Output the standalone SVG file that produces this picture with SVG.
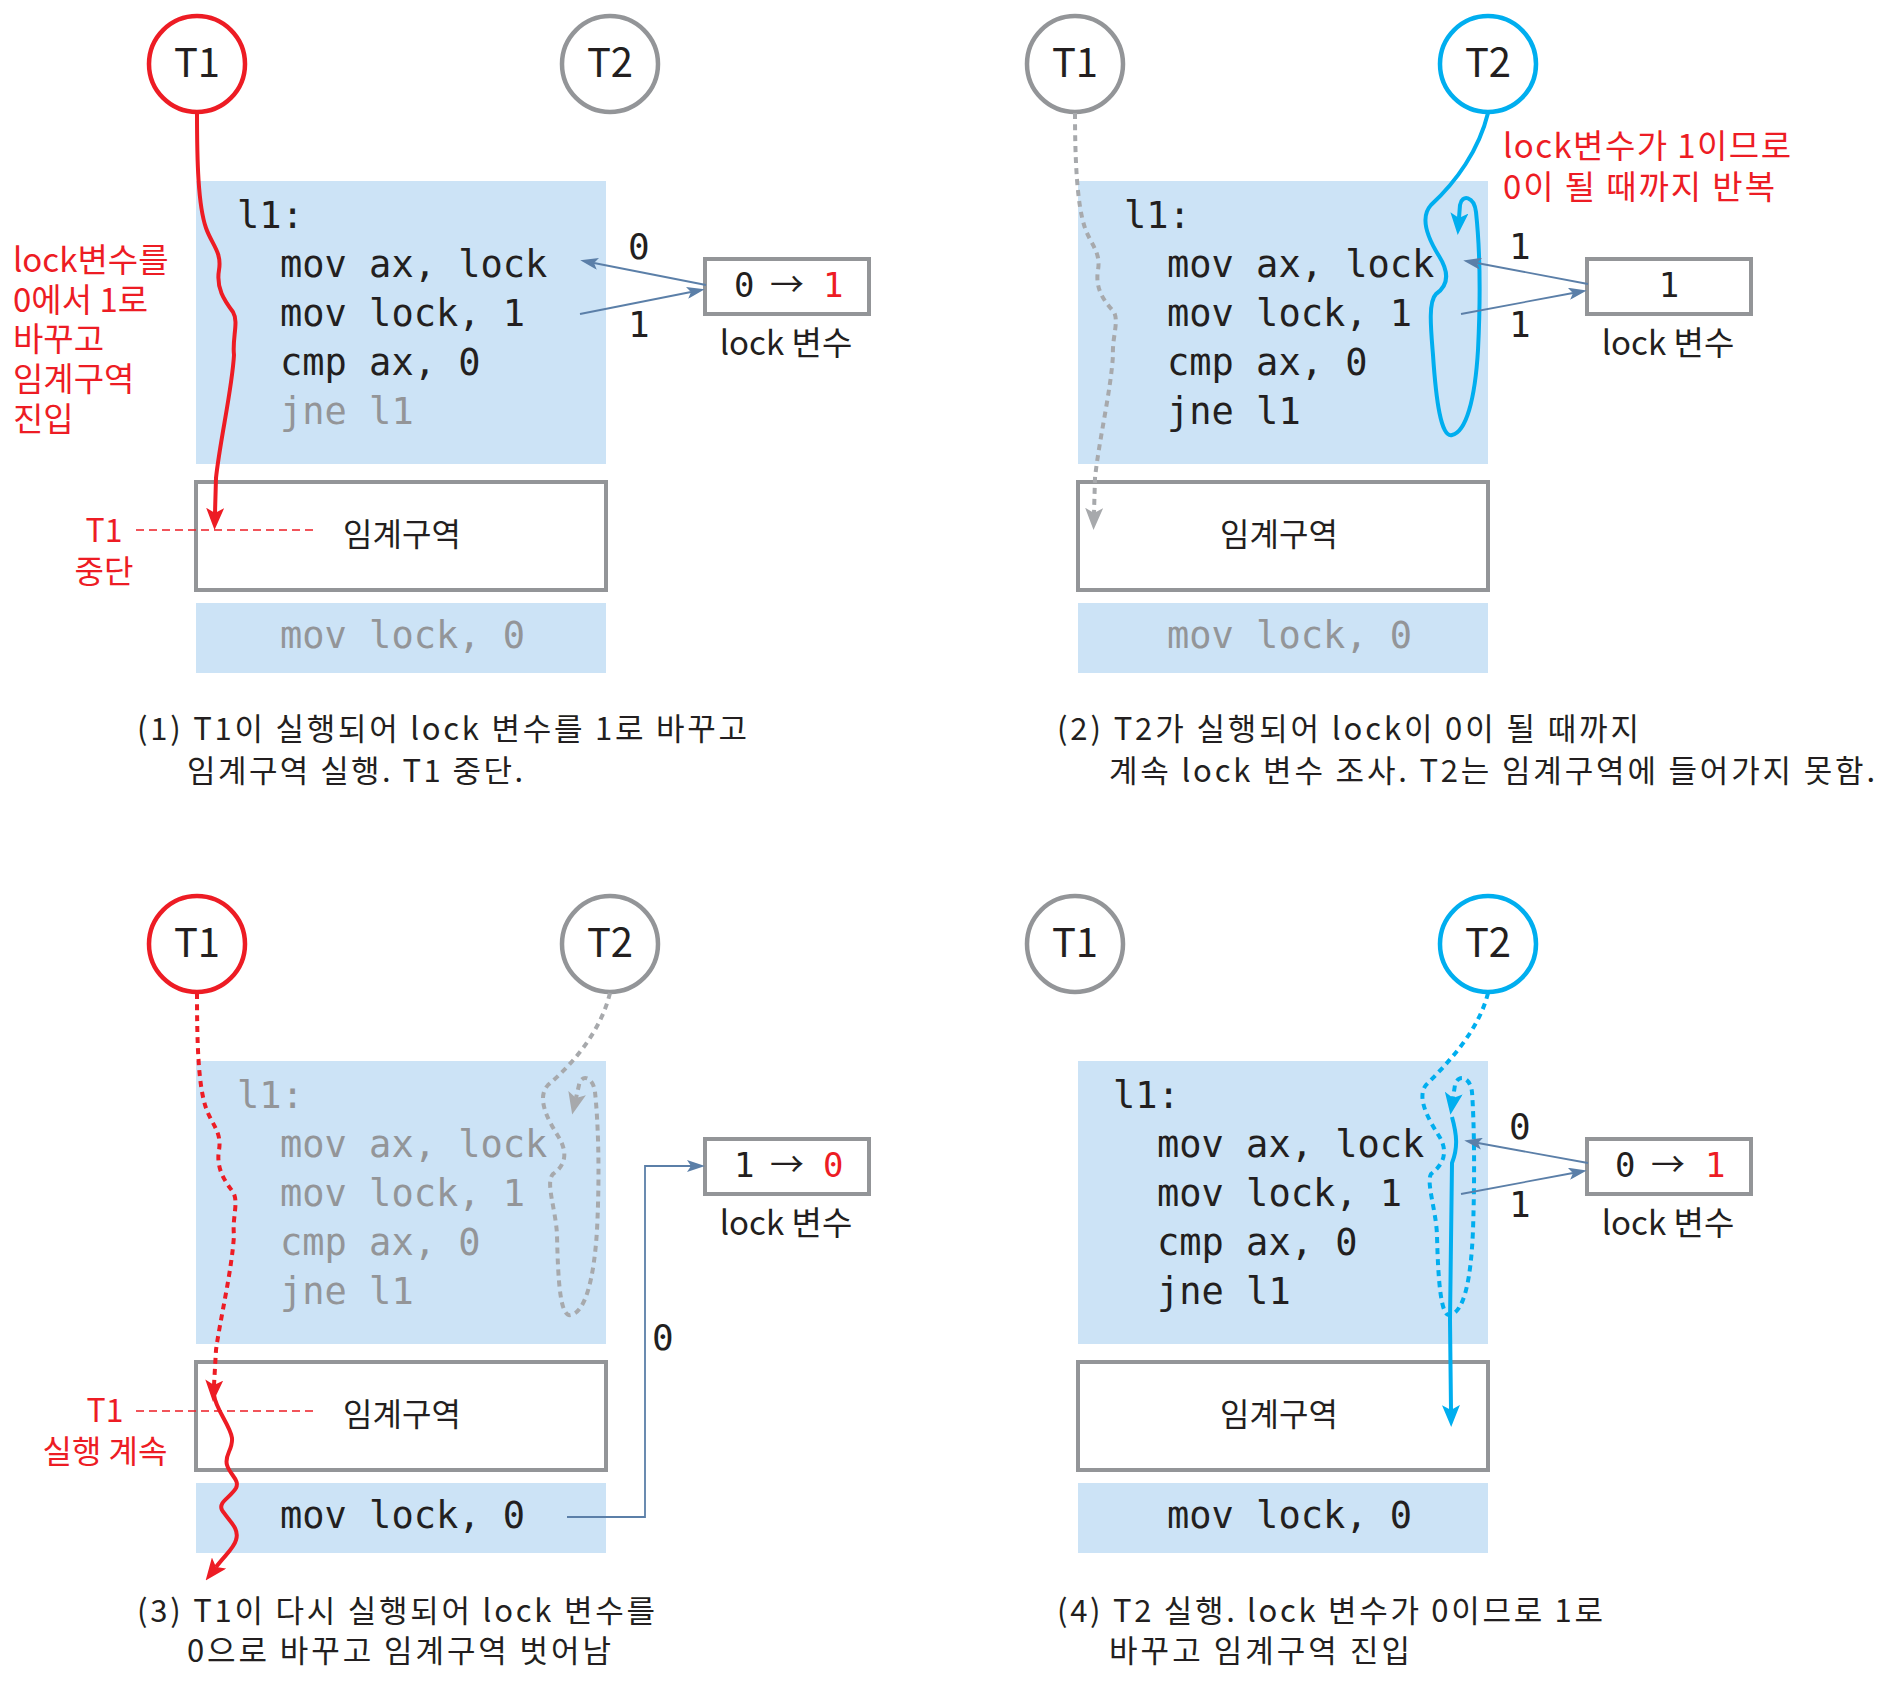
<svg xmlns="http://www.w3.org/2000/svg" width="1880" height="1682" viewBox="0 0 1880 1682">
<style>
.bg{fill:#ffffff}
.blk{fill:#cce3f6}
.cs{fill:#ffffff;stroke:#939598;stroke-width:4}
.var{fill:#ffffff;stroke:#939598;stroke-width:4}
.circ{fill:#ffffff;stroke-width:4.5}
.cr{stroke:#ed1c24}.cg{stroke:#939598}.cb{stroke:#00aeef}
.code{font-family:"DejaVu Sans Mono","Liberation Mono",monospace;font-size:37px}
.k{fill:#231f20}.g{fill:#939598}.r{fill:#ed1c24}
.sans{font-family:"Noto Sans CJK KR","Noto Sans",sans-serif}
.lbl{font-size:40px;fill:#231f20;text-anchor:middle}
.kr{font-size:32px}
.cap{font-family:"Noto Sans CJK KR","Noto Sans",sans-serif;font-size:31px;fill:#231f20}
.num{font-family:"DejaVu Sans Mono","Liberation Mono",monospace;font-size:36px;fill:#231f20}
.vnum{font-family:"DejaVu Sans Mono","Liberation Mono",monospace;font-size:34px}
.arr{font-family:"Noto Sans CJK KR","DejaVu Sans",sans-serif;font-size:34px;fill:#231f20}
.steel{fill:none;stroke:#5b7fa8;stroke-width:1.8}
.pr{fill:none;stroke:#ed1c24;stroke-width:4}
.prd{fill:none;stroke:#ed1c24;stroke-width:4;stroke-dasharray:6 5}
.pgd{fill:none;stroke:#a7a9ac;stroke-width:4;stroke-dasharray:6 5}
.pb{fill:none;stroke:#00aeef;stroke-width:4}
.pbd{fill:none;stroke:#00aeef;stroke-width:4;stroke-dasharray:6 5}
.lead{fill:none;stroke:#ed1c24;stroke-width:1.5;stroke-dasharray:8 5}
</style>
<defs>
<marker id="aR" markerUnits="userSpaceOnUse" viewBox="0 0 22 18" markerWidth="22" markerHeight="18" refX="5" refY="9" orient="auto"><path d="M0,0 L22,9 L0,18 L5,9 z" fill="#ed1c24"/></marker>
<marker id="aG" markerUnits="userSpaceOnUse" viewBox="0 0 22 18" markerWidth="22" markerHeight="18" refX="5" refY="9" orient="auto"><path d="M0,0 L22,9 L0,18 L5,9 z" fill="#a7a9ac"/></marker>
<marker id="aB" markerUnits="userSpaceOnUse" viewBox="0 0 22 18" markerWidth="22" markerHeight="18" refX="5" refY="9" orient="auto"><path d="M0,0 L22,9 L0,18 L5,9 z" fill="#00aeef"/></marker>
<marker id="aS" markerUnits="userSpaceOnUse" viewBox="0 0 18 12" markerWidth="18" markerHeight="12" refX="4" refY="6" orient="auto"><path d="M0,0 L18,6 L0,12 L4,6 z" fill="#5b7fa8"/></marker>
</defs>
<rect class="bg" x="0" y="0" width="1880" height="1682"/>

<!-- ===== Panel 1 ===== -->
<g id="panel1">
  <g id="p1-code">
    <rect class="blk" x="196" y="181" width="410" height="283"/>
    <text class="code k" x="237" y="228">l1:</text>
    <text class="code k" x="280" y="277">mov ax, lock</text>
    <text class="code k" x="280" y="326">mov lock, 1</text>
    <text class="code k" x="280" y="375">cmp ax, 0</text>
    <text class="code g" x="280" y="424">jne l1</text>
  </g>
  <g id="p1-cs">
    <rect class="cs" x="196" y="482" width="410" height="108"/>
    <text class="sans kr k" x="402" y="546" text-anchor="middle">임계구역</text>
  </g>
  <g id="p1-unlock">
    <rect class="blk" x="196" y="603" width="410" height="70"/>
    <text class="code g" x="280" y="648">mov lock, 0</text>
  </g>
  <g id="p1-var">
    <rect class="var" x="705" y="259" width="164" height="55"/>
    <text y="297"><tspan class="vnum k" x="734">0</tspan><tspan class="arr" x="770">→</tspan><tspan class="vnum r" x="823">1</tspan></text>
    <text class="sans k" font-size="33" x="786" y="355" text-anchor="middle">lock 변수</text>
  </g>
  <g id="p1-t1"><circle class="circ cr" cx="197" cy="64" r="48"/><text class="sans lbl" x="197" y="77">T1</text></g>
  <g id="p1-t2"><circle class="circ cg" cx="610" cy="64" r="48"/><text class="sans lbl" x="610" y="77">T2</text></g>
  <g id="p1-notes">
    <text class="sans r" font-size="33" y="272"><tspan x="13">lock변수를</tspan><tspan x="13" dy="40">0에서 1로</tspan><tspan x="13" dy="39">바꾸고</tspan><tspan x="13" dy="40">임계구역</tspan><tspan x="13" dy="40">진입</tspan></text>
    <text class="sans kr r" y="542" text-anchor="middle"><tspan x="104">T1</tspan><tspan x="104" dy="41">중단</tspan></text>
    <text class="num" x="628" y="259">0</text>
    <text class="num" x="628" y="337">1</text>
  </g>
  <g id="p1-connectors">
    <path class="pr" marker-end="url(#aR)" d="M197 113 C197 160,198 205,206 228 C212 245,222 252,219 270 C216 288,224 300,233 312 C239 322,232 338,234 355 C232 390,220 440,216 478 L215 513"/>
    <line class="lead" x1="136" y1="530" x2="316" y2="530"/>
    <line class="steel" marker-end="url(#aS)" x1="706" y1="285" x2="594" y2="263"/>
    <line class="steel" marker-end="url(#aS)" x1="580" y1="314" x2="691" y2="292"/>
  </g>
  <text class="cap" y="740"><tspan x="137" textLength="610">(1) T1이 실행되어 lock 변수를 1로 바꾸고</tspan><tspan x="187" dy="42" textLength="336">임계구역 실행. T1 중단.</tspan></text>
</g>

<!-- ===== Panel 2 ===== -->
<g id="panel2" transform="translate(881,0)">
  <g id="p2-code">
    <rect class="blk" x="197" y="181" width="410" height="283"/>
    <text class="code k" x="243" y="228">l1:</text>
    <text class="code k" x="286" y="277">mov ax, lock</text>
    <text class="code k" x="286" y="326">mov lock, 1</text>
    <text class="code k" x="286" y="375">cmp ax, 0</text>
    <text class="code k" x="286" y="424">jne l1</text>
  </g>
  <g id="p2-cs">
    <rect class="cs" x="197" y="482" width="410" height="108"/>
    <text class="sans kr k" x="398" y="546" text-anchor="middle">임계구역</text>
  </g>
  <g id="p2-unlock">
    <rect class="blk" x="197" y="603" width="410" height="70"/>
    <text class="code g" x="286" y="648">mov lock, 0</text>
  </g>
  <g id="p2-var">
    <rect class="var" x="706" y="259" width="164" height="55"/>
    <text class="vnum k" x="788" y="297" text-anchor="middle">1</text>
    <text class="sans k" font-size="33" x="787" y="355" text-anchor="middle">lock 변수</text>
  </g>
  <g id="p2-t1"><circle class="circ cg" cx="194" cy="64" r="48"/><text class="sans lbl" x="194" y="77">T1</text></g>
  <g id="p2-t2"><circle class="circ cb" cx="607" cy="64" r="48"/><text class="sans lbl" x="607" y="77">T2</text></g>
  <g id="p2-notes">
    <text class="sans r" font-size="33" y="158"><tspan x="622" textLength="288">lock변수가 1이므로</tspan><tspan x="622" dy="41" textLength="272">0이 될 때까지 반복</tspan></text>
    <text class="num" x="628" y="259">1</text>
    <text class="num" x="628" y="337">1</text>
  </g>
  <g id="p2-connectors">
    <path class="pgd" marker-end="url(#aG)" d="M194 113 C194 160,196 205,204 228 C210 245,220 252,217 270 C214 288,222 300,233 312 C238 322,231 338,232 355 C230 390,218 440,214 478 L213 513"/>
    <path class="pb" marker-end="url(#aB)" d="M607 113 C598 150,575 182,550 205 C538 218,548 240,558 256 C568 272,568 285,555 294 C547 302,550 330,552 355 C555 400,560 438,571 435 C585 432,594 400,597 350 C600 290,598 240,595 212 C593 196,581 194,579 205 L578 218"/>
    <line class="steel" marker-end="url(#aS)" x1="707" y1="284" x2="596" y2="263"/>
    <line class="steel" marker-end="url(#aS)" x1="580" y1="314" x2="692" y2="293"/>
  </g>
  <text class="cap" y="740"><tspan x="176" textLength="582">(2) T2가 실행되어 lock이 0이 될 때까지</tspan><tspan x="228" dy="42" textLength="766">계속 lock 변수 조사. T2는 임계구역에 들어가지 못함.</tspan></text>
</g>

<!-- ===== Panel 3 ===== -->
<g id="panel3" transform="translate(0,880)">
  <g id="p3-code">
    <rect class="blk" x="196" y="181" width="410" height="283"/>
    <text class="code g" x="237" y="228">l1:</text>
    <text class="code g" x="280" y="277">mov ax, lock</text>
    <text class="code g" x="280" y="326">mov lock, 1</text>
    <text class="code g" x="280" y="375">cmp ax, 0</text>
    <text class="code g" x="280" y="424">jne l1</text>
  </g>
  <g id="p3-cs">
    <rect class="cs" x="196" y="482" width="410" height="108"/>
    <text class="sans kr k" x="402" y="546" text-anchor="middle">임계구역</text>
  </g>
  <g id="p3-unlock">
    <rect class="blk" x="196" y="603" width="410" height="70"/>
    <text class="code k" x="280" y="648">mov lock, 0</text>
  </g>
  <g id="p3-var">
    <rect class="var" x="705" y="259" width="164" height="55"/>
    <text y="297"><tspan class="vnum k" x="734">1</tspan><tspan class="arr" x="770">→</tspan><tspan class="vnum r" x="823">0</tspan></text>
    <text class="sans k" font-size="33" x="786" y="355" text-anchor="middle">lock 변수</text>
  </g>
  <g id="p3-t1"><circle class="circ cr" cx="197" cy="64" r="48"/><text class="sans lbl" x="197" y="77">T1</text></g>
  <g id="p3-t2"><circle class="circ cg" cx="610" cy="64" r="48"/><text class="sans lbl" x="610" y="77">T2</text></g>
  <g id="p3-notes">
    <text class="sans kr r" y="542" text-anchor="middle"><tspan x="105">T1</tspan><tspan x="105" dy="41">실행 계속</tspan></text>
    <text class="num" x="652" y="470">0</text>
  </g>
  <g id="p3-connectors">
    <path class="prd" marker-end="url(#aR)" d="M197 113 C197 160,198 205,206 228 C212 245,222 252,219 270 C216 288,224 300,233 312 C239 322,232 338,234 355 C232 390,220 440,216 470 L214 505"/>
    <path class="pr" marker-end="url(#aR)" d="M214 515 C216 530,230 545,232 558 C233 570,224 575,227 585 C230 595,240 600,236 608 C230 618,218 622,222 630 C228 640,240 648,236 660 C234 668,226 674,216 687"/>
    <path class="pgd" marker-end="url(#aG)" d="M610 113 C601 150,575 182,548 205 C536 218,548 240,558 256 C568 272,566 285,553 294 C545 302,556 330,557 355 C558 400,560 438,571 435 C585 432,594 400,597 350 C600 290,598 240,595 212 C593 196,581 194,579 205 L576 218"/>
    <line class="lead" x1="136" y1="531" x2="316" y2="531"/>
    <polyline class="steel" marker-end="url(#aS)" points="567,637 645,637 645,286 691,286"/>
  </g>
  <text class="cap" y="742"><tspan x="137" textLength="518">(3) T1이 다시 실행되어 lock 변수를</tspan><tspan x="187" dy="40" textLength="424">0으로 바꾸고 임계구역 벗어남</tspan></text>
</g>

<!-- ===== Panel 4 ===== -->
<g id="panel4" transform="translate(881,880)">
  <g id="p4-code">
    <rect class="blk" x="197" y="181" width="410" height="283"/>
    <text class="code k" x="232" y="228">l1:</text>
    <text class="code k" x="276" y="277">mov ax, lock</text>
    <text class="code k" x="276" y="326">mov lock, 1</text>
    <text class="code k" x="276" y="375">cmp ax, 0</text>
    <text class="code k" x="276" y="424">jne l1</text>
  </g>
  <g id="p4-cs">
    <rect class="cs" x="197" y="482" width="410" height="108"/>
    <text class="sans kr k" x="398" y="546" text-anchor="middle">임계구역</text>
  </g>
  <g id="p4-unlock">
    <rect class="blk" x="197" y="603" width="410" height="70"/>
    <text class="code k" x="286" y="648">mov lock, 0</text>
  </g>
  <g id="p4-var">
    <rect class="var" x="706" y="259" width="164" height="55"/>
    <text y="297"><tspan class="vnum k" x="734">0</tspan><tspan class="arr" x="770">→</tspan><tspan class="vnum r" x="824">1</tspan></text>
    <text class="sans k" font-size="33" x="787" y="355" text-anchor="middle">lock 변수</text>
  </g>
  <g id="p4-t1"><circle class="circ cg" cx="194" cy="64" r="48"/><text class="sans lbl" x="194" y="77">T1</text></g>
  <g id="p4-t2"><circle class="circ cb" cx="607" cy="64" r="48"/><text class="sans lbl" x="607" y="77">T2</text></g>
  <g id="p4-notes">
    <text class="num" x="628" y="259">0</text>
    <text class="num" x="628" y="337">1</text>
  </g>
  <g id="p4-connectors">
    <path class="pbd" marker-end="url(#aB)" d="M607 113 C598 150,568 182,545 205 C535 218,548 240,558 256 C568 272,562 285,550 294 C545 302,555 330,556 355 C557 400,560 438,569 435 C583 432,590 400,592 350 C594 290,593 240,591 212 C589 196,577 194,574 205 L572 218"/>
    <path class="pb" marker-end="url(#aB)" d="M571 237 C576 255,577 268,571 283 L569 440 L570 530"/>
    <line class="steel" marker-end="url(#aS)" x1="707" y1="283" x2="597" y2="263"/>
    <line class="steel" marker-end="url(#aS)" x1="580" y1="314" x2="692" y2="293"/>
  </g>
  <text class="cap" y="742"><tspan x="176" textLength="546">(4) T2 실행. lock 변수가 0이므로 1로</tspan><tspan x="228" dy="40" textLength="301">바꾸고 임계구역 진입</tspan></text>
</g>
</svg>
